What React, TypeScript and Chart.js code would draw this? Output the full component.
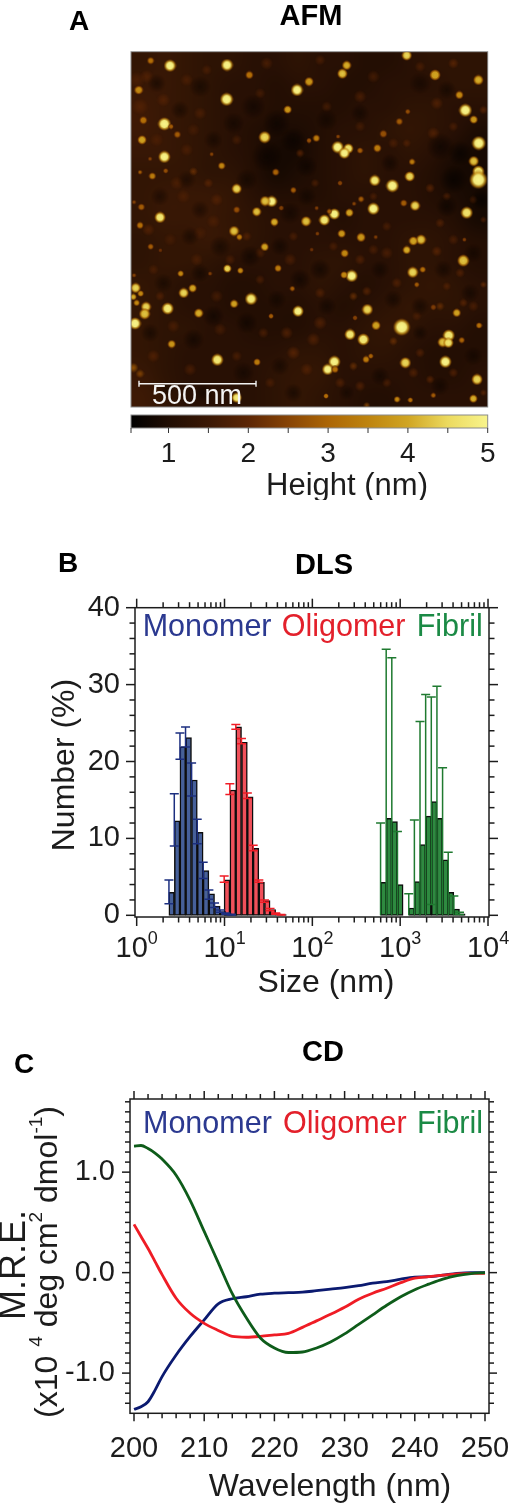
import React, { useEffect, useRef } from "react";
import { Chart, registerables } from "chart.js";

Chart.register(...registerables);

const FONT = '"Liberation Sans", Arial, Helvetica, sans-serif';

/* ---------- AFM data (scan position units, height in nm) ---------- */
const afmRange = [33, 1103, 35, 1103];
// coarse background height map, rows from the top of the scan
const afmBackground = [
  [1.35,1.45,1.35,1.25,1.25,1.15,1.15,1.25,1.15,1.15,1.05,1.05,1.15,1.25,1.25,1.25],
  [1.45,1.45,1.35,1.25,1.15,1.15,1.05,1.15,1.15,1.05,1.05,1.15,1.15,1.15,1.25,1.25],
  [1.55,1.45,1.35,1.25,1.15,1.15,1.05,1.05,1.05,1.05,1.15,1.15,1.25,1.25,1.15,1.15],
  [1.55,1.45,1.35,1.25,1.15,1.05,0.95,0.95,1.05,1.15,1.15,1.25,1.35,1.25,1.15,0.95],
  [1.45,1.45,1.35,1.25,1.15,1.05,0.85,0.85,1.05,1.15,1.25,1.15,1.25,1.15,0.95,0.85],
  [1.35,1.35,1.35,1.25,1.25,1.05,0.85,0.95,1.05,1.15,1.25,1.15,1.15,1.05,0.85,0.85],
  [1.35,1.45,1.45,1.45,1.35,1.15,1.05,1.05,1.05,1.15,1.15,1.15,1.15,1.05,0.95,0.85],
  [1.35,1.45,1.45,1.45,1.35,1.25,1.15,1.15,1.15,1.05,1.15,1.15,1.15,1.15,1.05,0.85],
  [1.25,1.35,1.35,1.45,1.35,1.25,1.15,1.15,1.15,1.15,1.15,1.15,1.25,1.25,1.15,1.05],
  [1.25,1.35,1.35,1.25,1.15,1.15,1.15,1.15,1.25,1.25,1.15,1.15,1.25,1.25,1.15,1.05],
  [1.35,1.25,1.15,1.15,1.05,1.05,1.15,1.15,1.25,1.15,1.05,1.15,1.25,1.35,1.25,1.15],
  [1.35,1.25,1.15,1.15,1.05,1.05,1.05,1.05,1.15,1.05,1.15,1.25,1.35,1.25,1.25,1.15],
  [1.35,1.25,1.25,1.15,1.15,1.05,1.05,1.05,1.15,1.15,1.25,1.35,1.25,1.15,1.15,1.05],
  [1.35,1.25,1.15,1.15,1.15,1.15,1.15,1.25,1.25,1.15,1.25,1.25,1.15,1.05,1.05,1.05],
  [1.45,1.25,1.15,1.15,1.15,1.15,1.25,1.35,1.35,1.15,1.15,1.15,1.15,1.05,1.05,1.15],
  [1.55,1.35,1.15,1.15,1.15,1.15,1.25,1.35,1.25,1.15,1.05,1.05,1.15,1.15,1.15,1.15],
];
// [x, y, radius, height]
const afmDarkSpots: number[][] = [
  [110,130,12,0.7],[240,140,14,0.7],[400,200,16,0.65],[470,250,18,0.6],[520,300,16,0.6],[440,350,20,0.6],[560,380,14,0.65],[380,420,14,0.7],
  [620,240,14,0.7],[720,220,12,0.7],[900,130,14,0.75],[980,150,12,0.7],[960,320,18,0.6],[1020,340,16,0.55],[1000,420,18,0.55],[1085,480,14,0.55],
  [980,500,14,0.6],[810,370,12,0.7],[200,420,12,0.8],[120,470,12,0.8],[240,510,12,0.8],[510,520,14,0.7],[560,470,12,0.7],[300,620,14,0.7],
  [390,650,14,0.65],[480,620,12,0.7],[600,690,14,0.65],[540,720,14,0.65],[780,690,12,0.7],[970,690,12,0.7],[1060,640,12,0.7],[240,700,12,0.7],
  [130,730,12,0.75],[280,830,14,0.65],[380,850,14,0.65],[470,780,12,0.7],[620,800,12,0.7],[820,780,12,0.7],[900,800,12,0.7],[1050,760,12,0.7],
  [220,900,14,0.65],[90,880,12,0.7],[370,1000,14,0.7],[480,980,12,0.75],[780,1010,12,0.7],[960,1040,12,0.7],[1060,950,12,0.7],[250,1060,12,0.7],
  [140,1050,10,0.75],[520,1060,12,0.7],[680,1060,10,0.75],[900,880,10,0.7],[180,210,12,0.75],[340,250,14,0.7],[280,300,12,0.75],[210,590,12,0.75],
];
const afmDimSpots: number[][] = [
  [80,110,10,1.9],[200,120,9,1.8],[260,90,8,1.8],[440,70,9,1.8],[600,60,8,1.8],[760,110,9,1.7],[900,80,8,1.8],[1000,70,8,2.0],
  [130,180,10,1.9],[240,220,9,1.8],[420,160,8,1.7],[620,200,8,1.7],[720,170,9,1.8],[950,190,9,1.9],[1090,210,6,2.0],[720,260,8,1.7],
  [200,330,9,1.8],[350,300,8,1.7],[540,340,6,2.0],[820,310,8,1.8],[940,280,9,1.9],[1000,260,7,1.8],[860,310,6,1.9],[220,395,6,2.2],
  [265,430,7,2.0],[190,470,10,1.8],[290,480,9,1.9],[585,430,6,1.8],[760,470,6,1.8],[930,445,7,2.0],[980,470,6,1.8],[1060,480,6,1.7],
  [85,570,9,1.9],[280,545,10,1.8],[380,590,7,1.9],[520,590,7,1.8],[800,560,7,1.8],[960,550,7,1.9],[1090,540,5,1.8],[150,600,9,1.7],
  [230,660,9,1.8],[510,660,9,1.8],[720,660,8,1.9],[800,640,9,1.8],[950,635,8,2.0],[100,690,8,1.8],[420,720,7,1.8],[1020,700,7,1.9],
  [120,770,7,1.9],[290,770,9,1.7],[600,760,8,1.9],[700,770,6,2.2],[740,755,7,2.0],[830,730,8,1.9],[980,740,6,1.9],[1090,735,5,2.1],
  [160,860,9,1.8],[300,870,9,1.7],[430,880,8,1.8],[600,850,10,1.9],[890,830,7,1.8],[960,800,6,2.2],[1030,790,6,2.0],[820,905,6,2.2],
  [100,950,9,1.9],[210,990,9,1.8],[350,950,8,1.8],[520,940,10,2.0],[560,990,9,1.9],[700,980,6,2.2],[900,940,7,1.9],[1000,1000,7,1.9],
  [40,985,7,2.9],[60,1003,6,2.6],[450,1030,8,1.8],[720,1040,8,1.9],[800,1030,7,1.8],[930,1020,6,2.0],[1090,1060,5,2.0],[740,1098,5,2.6],
  [50,120,12,1.8],[60,200,12,1.9],[110,300,10,1.8],[220,270,9,1.7],[170,430,10,1.8],[240,580,10,1.7],[330,660,8,1.8],[420,640,8,1.8],
  [640,620,7,1.8],[760,630,8,1.8],[1000,600,8,1.8],[1060,800,8,1.8],[880,1000,8,1.9],[660,1030,8,1.9],[580,900,10,1.9],[500,880,9,1.9],
];
const afmParticles: number[][] = [
  [150,77,12,5],[321,75,12,5],[320,178,13,5],[531,150,12,5],[133,252,13,5],[133,351,12,5],[434,292,12,4.5],[653,322,12,5],[685,326,10,4.7],[673,340,11,5],
  [1076,310,14,5],[1036,211,13,5],[1061,364,10,4.3],[1075,395,12,4.7],[1075,420,18,5],[764,422,11,4.8],[817,438,13,5],[869,410,10,4.5],[760,507,12,5],[885,498,10,4.5],
  [1040,519,12,4.7],[120,533,11,4.8],[643,523,11,5],[613,541,11,4.8],[455,485,11,5],[435,484,10,4.3],[350,447,10,4.5],[410,516,9,4.3],[342,574,10,4.3],[463,547,8,4.1],
  [558,545,10,4.3],[688,519,8,4],[903,600,10,4.3],[880,604,9,4],[860,631,8,4.1],[1030,663,12,4.3],[878,698,11,4.5],[695,709,12,5],[672,706,7,3.6],[322,687,8,4.5],
  [361,693,6,3.6],[474,686,7,3.4],[182,702,6,3.6],[434,622,8,4],[358,592,6,3.4],[665,582,8,3.8],[723,593,9,3.8],[674,641,8,3.6],
  [47,745,10,4.5],[40,772,6,4.1],[62,762,6,3.6],[78,802,10,4.5],[50,790,6,3.6],[74,823,11,4.3],[45,852,12,5],[143,807,12,4.8],[191,760,10,4.5],[218,746,8,4],
  [236,821,9,4.1],[342,793,8,4],[393,778,12,4.8],[534,815,11,5],[742,810,11,4.5],[690,885,11,4.8],[730,900,12,4.8],[768,858,9,4],[845,863,17,5],[986,888,12,4.8],
  [968,908,10,4.3],[985,910,10,4.7],[976,967,12,5],[856,970,11,4.5],[643,967,12,5],[623,990,11,5],[645,990,7,3.2],[738,960,7,3.4],[752,950,5,3],[292,961,12,4.8],
  [155,914,8,3.8],[411,968,7,3.4],[1071,1020,11,4.5],[1060,1078,8,4.1],[831,1080,6,3.6],[871,1082,5,3.2],[940,1068,5,2.9],[618,1070,5,3.2],[350,1075,10,4.8],[1010,820,8,4],
  [1077,858,6,3.2],[1025,902,6,3],[453,830,5,2.9],[517,747,5,2.9],[890,735,5,2.9],[908,690,6,3.2],
  [860,46,10,4.5],[680,76,9,4.1],[667,101,10,4.3],[567,125,9,3.8],[503,209,8,3.8],[388,105,8,3.2],[92,62,7,3.2],[945,105,11,4],[1075,120,10,4.1],[1018,165,8,3.6],
  [1061,239,8,3.8],[863,215,5,2.7],[838,245,7,2.9],[790,282,8,2.7],[772,325,8,3.4],[720,332,6,2.9],[876,366,6,3.4],[589,295,7,3.4],[567,302,5,2.7],[654,290,4,2.5],
  [56,150,9,3.6],[70,241,8,3.2],[66,300,9,4],[172,284,7,2.9],[153,260,5,2.9],[305,378,7,3.6],[275,343,4,2.5],[467,397,7,3],[520,451,6,2.9],[97,409,7,3.4],
  [60,397,4,2.9],[137,393,5,2.7],[90,357,4,2.5],[64,502,7,2.9],[60,557,7,3.2],[92,621,6,2.9],[350,510,7,2.7],[42,487,4,2.5],[484,505,5,2.5],[723,478,6,2.9],
  [702,492,4,2.5],[851,490,7,2.9],[660,430,5,2.5],[628,515,5,2.9],[590,505,4,2.4],[592,582,4,2.4],[767,592,4,2.4],[1033,600,4,2.4],[121,632,4,2.2],[575,630,4,2.2],
  [42,707,4,2.5],[270,702,4,2.4],[705,835,5,2.5],[940,803,6,2.4],
];
const scaleBarStart = 57;
const scaleBarEnd = 408;
const scaleBarY = 1033;

/* ---------- colour bar ---------- */
const colourHeights = [0.53, 1, 1.5, 2, 2.5, 3, 3.5, 4, 4.5, 5];
const colourStops = [
  [0, 0, 0], [32, 13, 3], [58, 24, 5], [92, 38, 5], [135, 68, 5], [172, 102, 5], [190, 132, 15], [208, 165, 35], [236, 218, 95], [248, 244, 140],
];
const colourTicks = [1, 2, 3, 4, 5];
const colourTickMarks = [0.53, 1, 1.5, 2, 2.5, 3, 3.5, 4, 4.5, 5];

/* ---------- DLS ---------- */
const monomerSize = [2.33, 2.68, 3.11, 3.6, 4.22, 4.89, 5.72, 6.64, 7.7, 8.93, 10.36, 12.0];
const monomerNumber = [3.0, 12.3, 21.9, 23.1, 17.6, 10.8, 5.8, 2.8, 1.2, 0.5, 0.2, 0.1];
const monomerTop = [4.6, 15.8, 23.7, 24.5, 19.8, 12.5, 6.9, 3.3, 1.6, 0.7, 0.3, 0.15];
const monomerLow = [1.5, 9.0, 20.3, 21.9, 15.5, 9.3, 4.8, 2.1, 1.0, 0.4, 0.1, 0.05];
const oligomerSize = [9.91, 11.5, 13.45, 15.6, 18.2, 21.2, 24.6, 28.5, 33, 38.3, 44];
const oligomerNumber = [4.6, 16.3, 24.5, 22.5, 15.4, 8.7, 4.3, 1.9, 0.75, 0.2, 0.1];
const oligomerTop = [5.1, 17.1, 24.8, 23.0, 15.9, 9.1, 4.6, 2.0, 0.87, 0.3, 0.12];
const oligomerLow = [4.3, 15.7, 24.2, 22.3, 15.2, 8.4, 4.3, 1.7, 0.6, 0.15, 0.05];
const fibrilSize = [598, 693, 803, 931, 1080, 1252, 1451, 1682, 1950, 2261, 2621, 3039, 3523, 4084, 4735];
const fibrilNumber = [4.3, 12.6, 12.2, 4.0, 0, 0.95, 4.4, 9.2, 12.9, 14.8, 12.6, 7.2, 3.0, 0.8, 0.2];
const fibrilTop = [12.0, 34.6, 33.5, 10.9, 0, 2.8, 12.4, 25.2, 28.7, 28.4, 29.8, 19.2, 8.2, 2.5, 0.4];
const fibrilLow = [0, 0, 0, 0, 0, 0, 0, 0, 0, 1.4, 0, 0, 0, 0, 0.1];
const dlsYTicks = [0, 10, 20, 30, 40];
const dlsYMinor = [2, 4, 6, 8, 12, 14, 16, 18, 22, 24, 26, 28, 32, 34, 36, 38];
const dlsXDecades = [1, 10, 100, 1000, 10000];
const dlsXExponents = ["0", "1", "2", "3", "4"];
const dlsXMinor = [2, 3, 4, 5, 6, 7, 8, 9, 20, 30, 40, 50, 60, 70, 80, 90, 200, 300, 400, 500, 600, 700, 800, 900, 2000, 3000, 4000, 5000, 6000, 7000, 8000, 9000];

/* ---------- CD ---------- */
const wavelength = [200, 201, 202, 203, 204, 206, 208, 210, 212, 214, 216, 218, 220, 222, 224, 226, 228, 230, 232, 234, 236, 238, 240, 242, 244, 246, 248, 250];
const fibrilMre = [1.26, 1.265, 1.235, 1.19, 1.13, 0.97, 0.72, 0.41, 0.10, -0.21, -0.45, -0.65, -0.75, -0.795, -0.79, -0.75, -0.69, -0.61, -0.515, -0.42, -0.325, -0.24, -0.17, -0.115, -0.065, -0.03, -0.01, 0];
const oligomerMre = [0.48, 0.36, 0.24, 0.11, -0.02, -0.255, -0.405, -0.505, -0.575, -0.635, -0.643, -0.635, -0.62, -0.605, -0.545, -0.48, -0.415, -0.345, -0.265, -0.205, -0.155, -0.10, -0.055, -0.04, -0.025, -0.012, -0.008, -0.008];
const monomerMre = [-1.36, -1.335, -1.285, -1.17, -1.035, -0.82, -0.635, -0.47, -0.31, -0.26, -0.24, -0.215, -0.205, -0.2, -0.195, -0.18, -0.165, -0.15, -0.13, -0.105, -0.09, -0.065, -0.045, -0.04, -0.025, -0.008, 0, 0];
const cdXTicks = [200, 210, 220, 230, 240, 250];
const cdXMinor = [202, 204, 206, 208, 212, 214, 216, 218, 222, 224, 226, 228, 232, 234, 236, 238, 242, 244, 246, 248];
const cdYTicks = [-1, 0, 1];
const cdYMinor = [-1.3, -1.2, -1.1, -0.9, -0.8, -0.7, -0.6, -0.5, -0.4, -0.3, -0.2, -0.1, 0.1, 0.2, 0.3, 0.4, 0.5, 0.6, 0.7, 0.8, 0.9, 1.1, 1.2, 1.3, 1.4, 1.5, 1.6, 1.7];

/* ---------- styling ---------- */
const legendNames = ["Monomer", "Oligomer", "Fibril"];
const legendTextColours = ["#2b3990", "#e3202b", "#1b8a45"];
const INK = "#1c1c1c";

function heightColour(h: number, alpha = 1) {
  let i = 0;
  while (i < colourHeights.length - 2 && h > colourHeights[i + 1]) i++;
  const t = Math.min(1, Math.max(0, (h - colourHeights[i]) / (colourHeights[i + 1] - colourHeights[i])));
  const c = colourStops[i].map((v, k) => Math.round(v + (colourStops[i + 1][k] - v) * t));
  return `rgba(${c[0]},${c[1]},${c[2]},${alpha})`;
}

type Part = { t: string; size?: number; up?: number };
type TextItem = {
  parts: Part[]; x: number; y: number; size: number; bold?: boolean; color?: string;
  rot?: boolean; align?: "left" | "center"; baseline?: CanvasTextBaseline;
};

function drawText(ctx: CanvasRenderingContext2D, it: TextItem) {
  ctx.save();
  ctx.translate(it.x, it.y);
  if (it.rot) ctx.rotate(-Math.PI / 2);
  ctx.fillStyle = it.color || INK;
  ctx.textBaseline = it.baseline || "middle";
  ctx.textAlign = "left";
  const fontOf = (p: Part) => `${it.bold ? "bold " : ""}${p.size || it.size}px ${FONT}`;
  let total = 0;
  for (const p of it.parts) {
    ctx.font = fontOf(p);
    total += ctx.measureText(p.t).width;
  }
  let cx = it.align === "left" ? 0 : -total / 2;
  for (const p of it.parts) {
    ctx.font = fontOf(p);
    ctx.fillText(p.t, cx, -(p.up || 0));
    cx += ctx.measureText(p.t).width;
  }
  ctx.restore();
}

const textPlugin = (items: TextItem[]) => ({
  id: "panelText",
  afterDraw(chart: any) {
    for (const it of items) drawText(chart.ctx, it);
  },
});

type TickSpec = {
  xMajor: number[]; xMinor: number[]; yMajor: number[]; yMinor: number[];
  majorLen: number; minorLen: number;
};

const framePlugin = (spec: TickSpec) => ({
  id: "frameTicks",
  afterDatasetsDraw(chart: any) {
    const { ctx, chartArea: a, scales } = chart;
    ctx.save();
    ctx.strokeStyle = INK;
    ctx.lineWidth = 1.5;
    ctx.strokeRect(a.left, a.top, a.right - a.left, a.bottom - a.top);
    const line = (x1: number, y1: number, x2: number, y2: number) => {
      ctx.beginPath();
      ctx.moveTo(x1, y1);
      ctx.lineTo(x2, y2);
      ctx.stroke();
    };
    const xTicks = (vals: number[], len: number) => {
      for (const v of vals) {
        const px = scales.x.getPixelForValue(v);
        line(px, a.bottom, px, a.bottom + len);
        line(px, a.top, px, a.top - len);
      }
    };
    const yTicks = (vals: number[], len: number) => {
      for (const v of vals) {
        const py = scales.y.getPixelForValue(v);
        line(a.left, py, a.left - len, py);
        line(a.right, py, a.right + len, py);
      }
    };
    xTicks(spec.xMajor, spec.majorLen);
    xTicks(spec.xMinor, spec.minorLen);
    yTicks(spec.yMajor, spec.majorLen);
    yTicks(spec.yMinor, spec.minorLen);
    ctx.restore();
  },
});

const errorBarPlugin = {
  id: "errorBars",
  afterDatasetsDraw(chart: any) {
    const { ctx, scales } = chart;
    ctx.save();
    ctx.lineWidth = 1.5;
    const cap = 4.5;
    for (const ds of chart.data.datasets) {
      ctx.strokeStyle = ds.errColor;
      ds.errX.forEach((xv: number, i: number) => {
        if (ds.errTop[i] <= 0) return;
        const x = scales.x.getPixelForValue(xv);
        const yt = scales.y.getPixelForValue(ds.errTop[i]);
        const yl = scales.y.getPixelForValue(ds.errLow[i]);
        ctx.beginPath();
        ctx.moveTo(x, yt);
        ctx.lineTo(x, yl);
        ctx.moveTo(x - cap, yt);
        ctx.lineTo(x + cap, yt);
        if (ds.errLow[i] > 0) {
          ctx.moveTo(x - cap, yl);
          ctx.lineTo(x + cap, yl);
        }
        ctx.stroke();
      });
    }
    ctx.restore();
  },
};

function fixFit(size: { width?: number; height?: number }) {
  return (s: any) => {
    if (size.width !== undefined) s.width = size.width;
    if (size.height !== undefined) s.height = size.height;
    s.paddingLeft = s.paddingRight = s.paddingTop = s.paddingBottom = 0;
  };
}
const setTicks = (vals: number[]) => (s: any) => {
  s.ticks = vals.map((value) => ({ value }));
};

const baseOptions = {
  responsive: false,
  animation: false as const,
  plugins: { legend: { display: false }, tooltip: { enabled: false }, title: { display: false } },
};

function spriteCanvas(rPx: number, paint: (grad: CanvasGradient) => void) {
  const r = Math.max(2, rPx);
  const c = document.createElement("canvas");
  c.width = c.height = Math.ceil(r * 2);
  const g = c.getContext("2d")!;
  const m = c.width / 2;
  const grad = g.createRadialGradient(m, m, 0, m, m, m);
  paint(grad);
  g.fillStyle = grad;
  g.fillRect(0, 0, c.width, c.height);
  return c;
}
const particleSprite = (rPx: number, h: number) =>
  spriteCanvas(rPx, (grad) => {
    grad.addColorStop(0, heightColour(h));
    grad.addColorStop(0.5, heightColour(h * 0.96));
    grad.addColorStop(0.75, heightColour(h * 0.72, 0.75));
    grad.addColorStop(1, heightColour(h * 0.5, 0));
  });
const softSprite = (rPx: number, h: number, strength: number) =>
  spriteCanvas(rPx, (grad) => {
    grad.addColorStop(0, heightColour(h, strength));
    grad.addColorStop(0.5, heightColour(h, strength * 0.6));
    grad.addColorStop(1, heightColour(h, 0));
  });

function afmConfig(top: number) {
  const pxPerUnit = 356.7 / (afmRange[1] - afmRange[0]);
  const toPoint = (p: number[]) => ({ x: p[0], y: p[1], r: p[2], h: p[3] });
  return {
    type: "scatter",
    data: {
      datasets: [
        { data: afmDarkSpots.map(toPoint), pointStyle: (c: any) => softSprite(c.raw.r * pxPerUnit * 2.2, c.raw.h, 0.55), pointRadius: 4 },
        { data: afmDimSpots.map(toPoint), pointStyle: (c: any) => softSprite(c.raw.r * pxPerUnit * 2.0, c.raw.h, 0.85), pointRadius: 4 },
        { data: afmParticles.map(toPoint), pointStyle: (c: any) => particleSprite(c.raw.r * pxPerUnit * 1.5, c.raw.h), pointRadius: 4 },
      ],
    },
    options: {
      ...baseOptions,
      layout: { padding: { left: 131, right: 513 - 487.7, top: 51.7 - top, bottom: 412 - 407.7 } },
      scales: {
        x: { type: "linear", display: false, min: afmRange[0], max: afmRange[1] },
        y: { type: "linear", display: false, min: afmRange[2], max: afmRange[3], reverse: true },
      },
    },
    plugins: [
      {
        id: "afmBackground",
        beforeDatasetsDraw(chart: any) {
          const { ctx, chartArea: a } = chart;
          const n = afmBackground.length;
          const off = document.createElement("canvas");
          off.width = off.height = n;
          const g = off.getContext("2d")!;
          afmBackground.forEach((row, j) =>
            row.forEach((h, i) => {
              g.fillStyle = heightColour(h);
              g.fillRect(i, j, 1, 1);
            })
          );
          ctx.save();
          ctx.imageSmoothingEnabled = true;
          ctx.imageSmoothingQuality = "high";
          ctx.drawImage(off, a.left, a.top, a.right - a.left, a.bottom - a.top);
          ctx.restore();
        },
        afterDatasetsDraw(chart: any) {
          const { ctx, chartArea: a, scales } = chart;
          ctx.save();
          ctx.strokeStyle = "#8a8a8a";
          ctx.lineWidth = 1;
          ctx.strokeRect(a.left, a.top, a.right - a.left, a.bottom - a.top);
          ctx.strokeStyle = "#f2f2f2";
          ctx.lineWidth = 1.4;
          const x1 = scales.x.getPixelForValue(scaleBarStart);
          const x2 = scales.x.getPixelForValue(scaleBarEnd);
          const y = scales.y.getPixelForValue(scaleBarY);
          ctx.beginPath();
          ctx.moveTo(x1, y);
          ctx.lineTo(x2, y);
          ctx.moveTo(x1, y - 3);
          ctx.lineTo(x1, y + 3);
          ctx.moveTo(x2, y - 3);
          ctx.lineTo(x2, y + 3);
          ctx.stroke();
          ctx.restore();
        },
      },
      textPlugin([
        { parts: [{ t: "A" }], x: 79, y: 22 - top, size: 28, bold: true, color: "#000" },
        { parts: [{ t: "AFM" }], x: 311, y: 17 - top, size: 29, bold: true, color: "#000" },
        { parts: [{ t: "500 nm" }], x: 197, y: 397 - top, size: 27, color: "#f4f4f4" },
      ]),
    ],
  };
}

function colourBarConfig(top: number) {
  return {
    type: "scatter",
    data: { datasets: [{ data: [] as any[] }] },
    options: {
      ...baseOptions,
      layout: { padding: { left: 131, right: 513 - 487.7, top: 415 - top, bottom: 0 } },
      scales: {
        x: {
          type: "linear",
          min: colourHeights[0],
          max: colourHeights[colourHeights.length - 1],
          grid: { display: false, drawTicks: false },
          border: { display: false },
          afterBuildTicks: setTicks(colourTicks),
          afterFit: fixFit({ height: 88 - (428 - top) }),
          ticks: {
            autoSkip: false, maxRotation: 0, minRotation: 0, padding: 9, color: INK,
            font: { family: FONT, size: 28 },
            callback: (v: any) => String(v),
          },
        },
        y: { type: "linear", display: false, min: 0, max: 1 },
      },
    },
    plugins: [
      {
        id: "colourBar",
        beforeDatasetsDraw(chart: any) {
          const { ctx, chartArea: a, scales } = chart;
          const x0 = scales.x.getPixelForValue(colourHeights[0]);
          const x1 = scales.x.getPixelForValue(colourHeights[colourHeights.length - 1]);
          const grad = ctx.createLinearGradient(x0, 0, x1, 0);
          colourHeights.forEach((h) => grad.addColorStop((scales.x.getPixelForValue(h) - x0) / (x1 - x0), heightColour(h)));
          ctx.save();
          ctx.fillStyle = grad;
          ctx.fillRect(a.left, a.top, a.right - a.left, a.bottom - a.top);
          ctx.strokeStyle = "#8a8a8a";
          ctx.lineWidth = 1;
          ctx.strokeRect(a.left, a.top, a.right - a.left, a.bottom - a.top);
          ctx.strokeStyle = "#333";
          for (const v of colourTickMarks) {
            const p = scales.x.getPixelForValue(v);
            ctx.beginPath();
            ctx.moveTo(p, a.bottom);
            ctx.lineTo(p, a.bottom + 5);
            ctx.stroke();
          }
          ctx.restore();
        },
      },
      textPlugin([{ parts: [{ t: "Height (nm)" }], x: 347, y: 486 - top, size: 31 }]),
    ],
  };
}

const barCentres = (edges: number[]) =>
  edges.map((v, i) => Math.sqrt(v * (edges[i + 1] ?? (v * v) / edges[i - 1])));

function dlsDataset(sizes: number[], values: number[], tops: number[], lows: number[], fill: string, errColor: string) {
  const centres = barCentres(sizes);
  return {
    type: "bar",
    stack: "all",
    data: values.map((y, i) => ({ x: centres[i], y })),
    backgroundColor: fill,
    borderColor: "#0c0c0c",
    borderWidth: 1.5,
    borderSkipped: false,
    barThickness: "flex",
    barPercentage: 1,
    categoryPercentage: 1,
    errX: sizes,
    errTop: tops,
    errLow: lows,
    errColor,
  };
}

function dlsConfig(top: number, height: number) {
  const labelY = 949 - top;
  const decadeLabels = {
    id: "decadeLabels",
    afterDraw(chart: any) {
      dlsXDecades.forEach((v, i) => {
        drawText(chart.ctx, {
          parts: [{ t: "10" }, { t: dlsXExponents[i], size: 18, up: 10 }],
          x: chart.scales.x.getPixelForValue(v), y: labelY, size: 29,
        });
      });
    },
  };
  return {
    type: "bar",
    data: {
      datasets: [
        dlsDataset(monomerSize, monomerNumber, monomerTop, monomerLow, "#46609a", "#1c2f80"),
        dlsDataset(oligomerSize, oligomerNumber, oligomerTop, oligomerLow, "#f0505a", "#f01c26"),
        dlsDataset(fibrilSize, fibrilNumber, fibrilTop, fibrilLow, "#2e8a40", "#1f7a30"),
      ],
    },
    options: {
      ...baseOptions,
      layout: { padding: { left: 0, right: 513 - 489, top: 607.7 - top, bottom: 0 } },
      scales: {
        x: {
          type: "logarithmic",
          offset: false,
          stacked: true,
          min: 0.957,
          max: 10262,
          grid: { display: false, drawTicks: false },
          border: { display: false },
          afterFit: fixFit({ height: height - (917 - top) }),
          ticks: { display: false },
        },
        y: {
          type: "linear",
          stacked: false,
          min: -0.22,
          max: 40,
          grid: { display: false, drawTicks: false },
          border: { display: false },
          afterBuildTicks: setTicks(dlsYTicks),
          afterFit: fixFit({ width: 135 }),
          ticks: {
            autoSkip: false, padding: 15, color: INK,
            font: { family: FONT, size: 29 },
            callback: (v: any) => String(v),
          },
        },
      },
    },
    plugins: [
      errorBarPlugin,
      framePlugin({ xMajor: dlsXDecades, xMinor: dlsXMinor, yMajor: dlsYTicks, yMinor: dlsYMinor, majorLen: 9, minorLen: 5.5 }),
      decadeLabels,
      textPlugin([
        { parts: [{ t: "B" }], x: 68, y: 564 - top, size: 28, bold: true, color: "#000" },
        { parts: [{ t: "DLS" }], x: 324, y: 566 - top, size: 29, bold: true, color: "#000" },
        { parts: [{ t: "Number (%)" }], x: 65, y: 765 - top, size: 32, rot: true },
        { parts: [{ t: "Size (nm)" }], x: 326, y: 983 - top, size: 32 },
        { parts: [{ t: legendNames[0] }], x: 142.7, y: 636 - top, size: 30.5, color: legendTextColours[0], align: "left", baseline: "alphabetic" },
        { parts: [{ t: legendNames[1] }], x: 281.7, y: 636 - top, size: 30.5, color: legendTextColours[1], align: "left", baseline: "alphabetic" },
        { parts: [{ t: legendNames[2] }], x: 416.7, y: 636 - top, size: 30.5, color: legendTextColours[2], align: "left", baseline: "alphabetic" },
      ]),
    ],
  };
}

function cdConfig(top: number, height: number) {
  const series = (name: string, values: number[], color: string) => ({
    label: name,
    data: values.map((y, i) => ({ x: wavelength[i], y })),
    borderColor: color,
    borderWidth: 2.8,
    pointRadius: 0,
    cubicInterpolationMode: "monotone",
    fill: false,
  });
  return {
    type: "line",
    data: {
      datasets: [
        series(legendNames[2], fibrilMre, "#0e5c1a"),
        series(legendNames[1], oligomerMre, "#ef1c25"),
        series(legendNames[0], monomerMre, "#0b1a70"),
      ],
    },
    options: {
      ...baseOptions,
      layout: { padding: { left: 0, right: 513 - 489, top: 1099 - top, bottom: 0 } },
      scales: {
        x: {
          type: "linear",
          min: 199.43,
          max: 250.57,
          grid: { display: false, drawTicks: false },
          border: { display: false },
          afterBuildTicks: setTicks(cdXTicks),
          afterFit: fixFit({ height: height - (1413.3 - top) }),
          ticks: {
            autoSkip: false, maxRotation: 0, minRotation: 0, padding: 18, color: INK,
            font: { family: FONT, size: 29 },
            callback: (v: any) => String(v),
          },
        },
        y: {
          type: "linear",
          min: -1.4,
          max: 1.728,
          grid: { display: false, drawTicks: false },
          border: { display: false },
          afterBuildTicks: setTicks(cdYTicks),
          afterFit: fixFit({ width: 130 }),
          ticks: {
            autoSkip: false, padding: 15, color: INK,
            font: { family: FONT, size: 29 },
            callback: (v: any) => Number(v).toFixed(1),
          },
        },
      },
    },
    plugins: [
      framePlugin({ xMajor: cdXTicks, xMinor: cdXMinor, yMajor: cdYTicks, yMinor: cdYMinor, majorLen: 8, minorLen: 5 }),
      textPlugin([
        { parts: [{ t: "C" }], x: 24, y: 1065 - top, size: 28, bold: true, color: "#000" },
        { parts: [{ t: "CD" }], x: 323, y: 1053 - top, size: 29, bold: true, color: "#000" },
        { parts: [{ t: "M.R.E." }], x: 15, y: 1265 - top, size: 36, rot: true },
        {
          parts: [
            { t: "(x10 " }, { t: "4", size: 19, up: 11 }, { t: " deg cm" }, { t: "2", size: 19, up: 11 },
            { t: " dmol" }, { t: "-1", size: 19, up: 11 }, { t: ")" },
          ],
          x: 48, y: 1262 - top, size: 32, rot: true,
        },
        { parts: [{ t: "Wavelength (nm)" }], x: 330, y: 1487 - top, size: 32 },
        { parts: [{ t: legendNames[0] }], x: 143, y: 1132.7 - top, size: 30.5, color: legendTextColours[0], align: "left", baseline: "alphabetic" },
        { parts: [{ t: legendNames[1] }], x: 283, y: 1132.7 - top, size: 30.5, color: legendTextColours[1], align: "left", baseline: "alphabetic" },
        { parts: [{ t: legendNames[2] }], x: 417, y: 1132.7 - top, size: 30.5, color: legendTextColours[2], align: "left", baseline: "alphabetic" },
      ]),
    ],
  };
}

function Panel({ top, height, make }: { top: number; height: number; make: (top: number, height: number) => any }) {
  const ref = useRef<HTMLCanvasElement>(null);
  useEffect(() => {
    const chart = new Chart(ref.current as HTMLCanvasElement, make(top, height));
    return () => chart.destroy();
  }, []);
  return (
    <canvas
      ref={ref}
      width={513}
      height={height}
      style={{ position: "absolute", left: 0, top, width: 513, height, filter: "blur(0.45px)" }}
    />
  );
}

export default function App() {
  return (
    <div style={{ position: "absolute", left: 0, top: 0, width: 513, height: 1505, background: "#fff", overflow: "hidden" }}>
      <Panel top={0} height={412} make={afmConfig} />
      <Panel top={412} height={88} make={colourBarConfig} />
      <Panel top={540} height={470} make={dlsConfig} />
      <Panel top={1030} height={475} make={cdConfig} />
    </div>
  );
}
